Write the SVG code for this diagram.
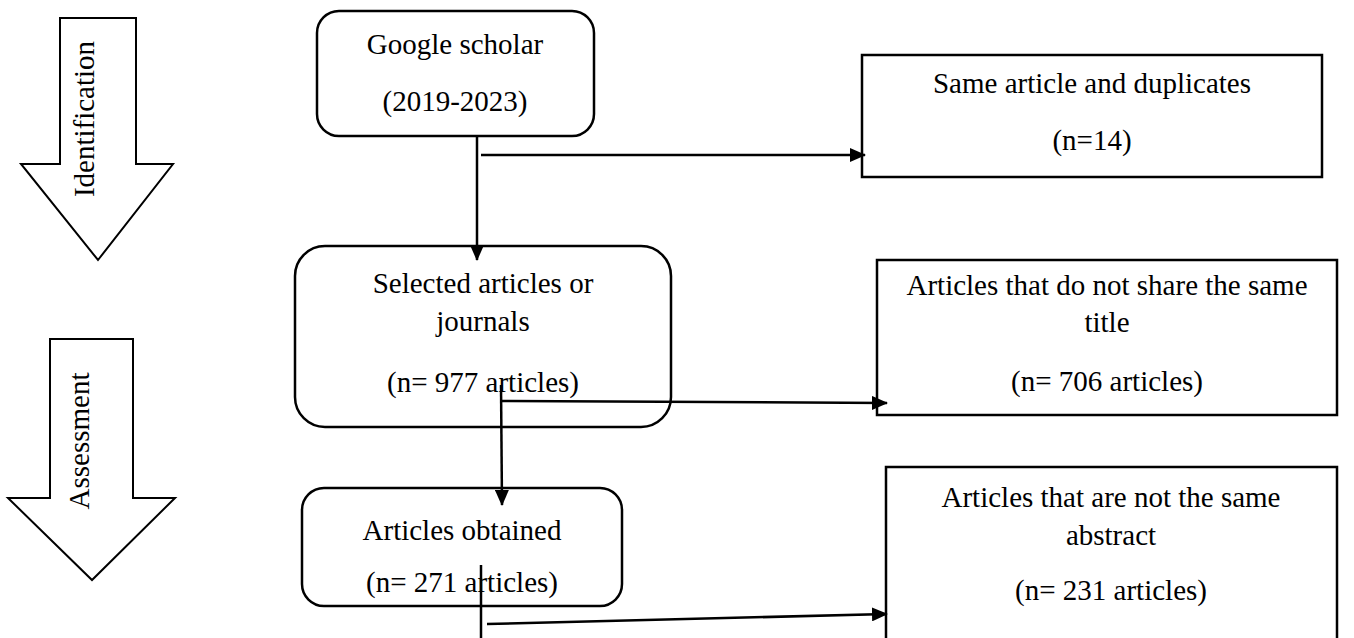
<svg xmlns="http://www.w3.org/2000/svg" width="1354" height="638" viewBox="0 0 1354 638">
<defs>
<marker id="ah" viewBox="0 0 16 14" refX="15" refY="7" markerWidth="16" markerHeight="14" markerUnits="userSpaceOnUse" orient="auto">
<path d="M0,0 L16,7 L0,14 Z" fill="#000"/>
</marker>
</defs>
<style>
.box{fill:#fff;stroke:#000;stroke-width:2.5}
.big{fill:#fff;stroke:#000;stroke-width:2}
.t{font-family:"Liberation Serif","Times New Roman",serif;font-size:29px;fill:#000;text-anchor:middle}
.c{stroke:#000;stroke-width:2.5;fill:none}
.ca{stroke:#000;stroke-width:2.5;fill:none;marker-end:url(#ah)}
</style>
<rect width="1354" height="638" fill="#fff"/>
<g id="identification">
<polygon class="big" points="60,18 136,18 136,164 173,164 98,260 21,164 60,164"/>
<text class="t" transform="translate(94,119) rotate(-90)">Identification</text>
</g>
<g id="assessment">
<polygon class="big" points="50,339 133,339 133,498 175,498 92,580 8,498 50,498"/>
<text class="t" transform="translate(89,441) rotate(-90)">Assessment</text>
</g>
<g id="google">
<rect class="box" x="317" y="11" width="277" height="125" rx="22"/>
<text class="t" x="455" y="54">Google scholar</text>
<text class="t" x="455" y="111">(2019-2023)</text>
</g>
<g id="selected">
<rect class="box" x="295" y="246" width="376" height="181" rx="30"/>
<text class="t" x="483" y="293">Selected articles or</text>
<text class="t" x="483" y="331">journals</text>
<text class="t" x="483" y="392">(n= 977 articles)</text>
</g>
<g id="obtained">
<rect class="box" x="302" y="488" width="320" height="118" rx="22"/>
<text class="t" x="462" y="540">Articles obtained</text>
<text class="t" x="462" y="592">(n= 271 articles)</text>
</g>
<g id="duplicates">
<rect class="box" x="862" y="55" width="460" height="122"/>
<text class="t" x="1092" y="93">Same article and duplicates</text>
<text class="t" x="1092" y="150">(n=14)</text>
</g>
<g id="title">
<rect class="box" x="877" y="260" width="460" height="155"/>
<text class="t" x="1107" y="295">Articles that do not share the same</text>
<text class="t" x="1107" y="332">title</text>
<text class="t" x="1107" y="391">(n= 706 articles)</text>
</g>
<g id="abstract">
<rect class="box" x="886" y="467" width="451" height="180"/>
<text class="t" x="1111" y="507">Articles that are not the same</text>
<text class="t" x="1111" y="545">abstract</text>
<text class="t" x="1111" y="600">(n= 231 articles)</text>
</g>
<g id="connectors">
<line class="ca" x1="477" y1="136" x2="477" y2="260"/>
<line class="ca" x1="481" y1="155" x2="865" y2="155"/>
<line class="ca" x1="501" y1="385" x2="502" y2="505"/>
<line class="ca" x1="501" y1="401" x2="887" y2="403"/>
<line class="c" x1="481" y1="565" x2="481" y2="638"/>
<line class="ca" x1="487" y1="624" x2="887" y2="614"/>
</g>
</svg>
